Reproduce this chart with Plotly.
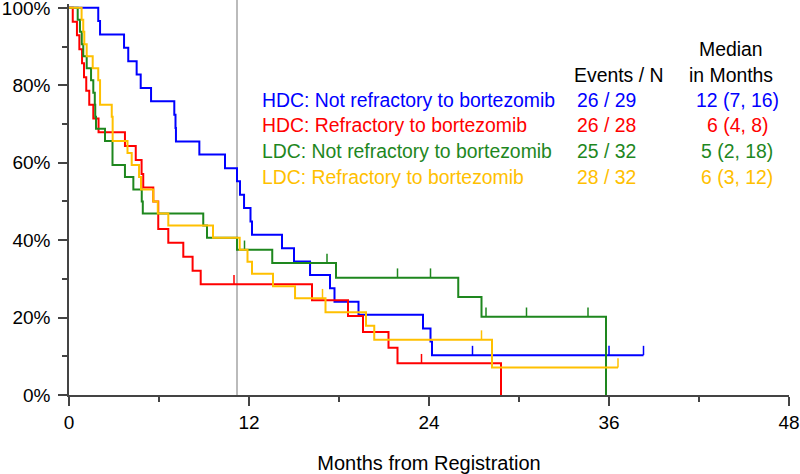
import plotly.graph_objects as go

# ---------------- data ----------------
x_ticks = [0, 12, 24, 36, 48]
y_ticks = [0, 20, 40, 60, 80, 100]
y_tick_labels = ["0%", "20%", "40%", "60%", "80%", "100%"]
ref_line_month = 11.2

names = ["HDC: Not refractory to bortezomib", "HDC: Refractory to bortezomib",
         "LDC: Not refractory to bortezomib", "LDC: Refractory to bortezomib"]
events_n = ["26 / 29", "26 / 28", "25 / 32", "28 / 32"]
medians = ["12 (7, 16)", "6 (4, 8)", "5 (2, 18)", "6 (3, 12)"]
colors = ["#0000FF", "#FF0000", "#1E871E", "#FFC000"]

# HDC not refractory (blue)
hdc_nr_t = [1.95, 2.07, 3.67, 3.95, 4.51, 4.78, 5.47, 7.02, 7.10, 7.13, 8.69, 10.4, 11.2,
            11.4, 11.67, 12.1, 12.2, 14.2, 15.0, 16.07, 17.4, 17.7, 19.3, 23.6, 24.1, 24.2]
hdc_nr_s = [96.6, 93.1, 89.7, 86.2, 82.8, 79.3, 75.9, 72.4, 69.0, 65.5, 62.1, 58.6, 55.2,
            51.7, 48.3, 44.8, 41.4, 37.9, 34.5, 31.0, 27.6, 24.1, 20.7, 17.2, 13.8, 10.3]
hdc_nr_cens = [26.9, 36.0, 38.3]
hdc_nr_end = 38.3

# HDC refractory (red)
hdc_r_t = [0.25, 0.53, 0.69, 0.87, 1.0, 1.15, 1.35, 1.62, 1.97, 3.73, 4.45, 4.84, 4.95,
           5.62, 5.95, 6.62, 7.62, 8.24, 8.78, 16.2, 18.6, 19.6, 21.3, 21.9, 28.8]
hdc_r_s = [96.4, 92.9, 89.3, 85.7, 82.1, 78.6, 75.0, 71.4, 67.9, 64.3, 60.7, 57.1, 53.6,
           50.0, 42.9, 39.3, 35.7, 32.1, 28.6, 24.5, 20.4, 16.3, 12.2, 8.2, 0.0]
hdc_r_cens = [11.0, 23.5]
hdc_r_end = 28.8

# LDC not refractory (green)
ldc_nr_t = [0.58, 0.73, 0.85, 0.95, 1.18, 1.47, 1.62, 1.72, 1.75, 1.8, 2.4, 2.9, 3.73,
            4.29, 4.85, 4.92, 8.95, 9.2, 11.2, 13.55, 17.8, 25.95, 27.5, 35.8]
ldc_nr_s = [96.9, 93.8, 90.6, 87.5, 84.4, 81.3, 78.1, 75.0, 71.9, 68.8, 65.6, 59.4, 56.3,
            53.1, 50.0, 46.9, 43.8, 40.6, 37.5, 34.1, 30.3, 25.3, 20.2, 0.0]
ldc_nr_cens = [11.7, 17.2, 21.9, 24.1, 27.8, 30.5, 34.6]
ldc_nr_end = 35.8

# LDC refractory (yellow)
ldc_r_t = [0.84, 0.95, 1.02, 1.18, 1.58, 1.95, 2.07, 2.85, 2.91, 3.9, 4.18, 4.67, 4.8,
           5.62, 5.92, 6.62, 9.6, 11.38, 11.9, 12.2, 13.6, 15.07, 17.1, 19.8, 20.35, 28.2]
ldc_r_s = [96.9, 93.8, 90.6, 87.5, 84.4, 81.3, 75.0, 71.9, 65.6, 62.5, 59.4, 56.3, 53.1,
           50.0, 46.9, 43.8, 40.6, 37.5, 34.4, 31.3, 28.1, 25.0, 21.4, 17.9, 14.3, 7.1]
ldc_r_cens = [16.9, 27.5, 36.6]
ldc_r_end = 36.6

series = [
    (hdc_nr_t, hdc_nr_s, hdc_nr_cens, hdc_nr_end),
    (hdc_r_t, hdc_r_s, hdc_r_cens, hdc_r_end),
    (ldc_nr_t, ldc_nr_s, ldc_nr_cens, ldc_nr_end),
    (ldc_r_t, ldc_r_s, ldc_r_cens, ldc_r_end),
]

# ---------------- layout helpers ----------------
W, H = 800, 474
ML, MR, MT, MB = 69, 11, 4, 79
PW, PH = W - ML - MR, H - MT - MB
FONT = "Liberation Sans, Arial, Helvetica, sans-serif"
LEG_SIZE = 19.4
TICK_H = 2.4  # censor tick height in % units


def px(x):
    return (x - ML) / PW


def py(y):
    return (H - MB - y) / PH


def level_at(times, surv, t):
    v = 100.0
    for ti, si in zip(times, surv):
        if ti <= t:
            v = si
    return v


fig = go.Figure()

for (t, s, cens, end), col, name in zip(series, colors, names):
    xs = [0.0] + list(t)
    ys = [100.0] + list(s)
    if end > xs[-1]:
        xs.append(end)
        ys.append(ys[-1])
    fig.add_trace(go.Scatter(x=xs, y=ys, mode="lines", line=dict(color=col, width=2, shape="hv"),
                             name=name, hoverinfo="skip"))
    cx, cy = [], []
    for c in cens:
        lv = level_at(t, s, c)
        cx += [c, c, None]
        cy += [lv, lv + TICK_H, None]
    fig.add_trace(go.Scatter(x=cx, y=cy, mode="lines", line=dict(color=col, width=1.5),
                             hoverinfo="skip", showlegend=False))

fig.add_shape(type="line", xref="x", yref="paper", x0=ref_line_month, x1=ref_line_month,
              y0=0, y1=1.02, line=dict(color="#BBBBBB", width=2), layer="below")

# legend table as annotations
ann = []
ann.append(dict(text="Median", x=px(731), y=py(49), xanchor="center"))
ann.append(dict(text="Events / N", x=px(618), y=py(75), xanchor="center"))
ann.append(dict(text="in Months", x=px(731), y=py(75), xanchor="center"))
row_y = [100, 125.5, 151, 176.5]
for i in range(4):
    ann.append(dict(text=names[i], x=px(260), y=py(row_y[i]), xanchor="left",
                    font=dict(color=colors[i], size=LEG_SIZE, family=FONT)))
    ann.append(dict(text=events_n[i], x=px(606), y=py(row_y[i]), xanchor="center",
                    font=dict(color=colors[i], size=LEG_SIZE, family=FONT)))
    ann.append(dict(text=medians[i], x=px(737), y=py(row_y[i]), xanchor="center",
                    font=dict(color=colors[i], size=LEG_SIZE, family=FONT)))
for a in ann:
    a.update(xref="paper", yref="paper", yanchor="middle", showarrow=False)
    a.setdefault("font", dict(color="black", size=LEG_SIZE, family=FONT))

axis_col = "#444444"
fig.update_layout(
    width=W, height=H,
    margin=dict(l=ML, r=MR, t=MT, b=MB, autoexpand=False),
    plot_bgcolor="white", paper_bgcolor="white",
    showlegend=False,
    font=dict(family=FONT, color="black"),
    annotations=ann,
    xaxis=dict(range=[0, 48], tickmode="array", tickvals=x_ticks, automargin=False,
               ticklabeloverflow="allow",
               showline=True, linecolor=axis_col, linewidth=1.5,
               ticks="outside", ticklen=9, tickwidth=1.5, tickcolor=axis_col,
               minor=dict(dtick=6, tick0=0, ticks="outside", ticklen=5, tickwidth=1.5, tickcolor=axis_col),
               showgrid=False, zeroline=False,
               tickfont=dict(size=19, family=FONT, color="black"),
               title=dict(text="Months from Registration", font=dict(size=20, family=FONT, color="black"),
                          standoff=24)),
    yaxis=dict(range=[0, 101], tickmode="array", tickvals=y_ticks, ticktext=y_tick_labels,
               automargin=False, ticklabeloverflow="allow",
               showline=True, linecolor=axis_col, linewidth=1.5,
               ticks="outside", ticklen=9, tickwidth=1.5, tickcolor=axis_col,
               minor=dict(dtick=10, tick0=0, ticks="outside", ticklen=5, tickwidth=1.5, tickcolor=axis_col),
               showgrid=False, zeroline=False,
               tickfont=dict(size=19, family=FONT, color="black"),
               ticklabelstandoff=4),
)

fig.write_html("out.html", config={"displayModeBar": False},
               post_script="document.body.style.margin='0px';document.body.style.overflow='hidden';")
